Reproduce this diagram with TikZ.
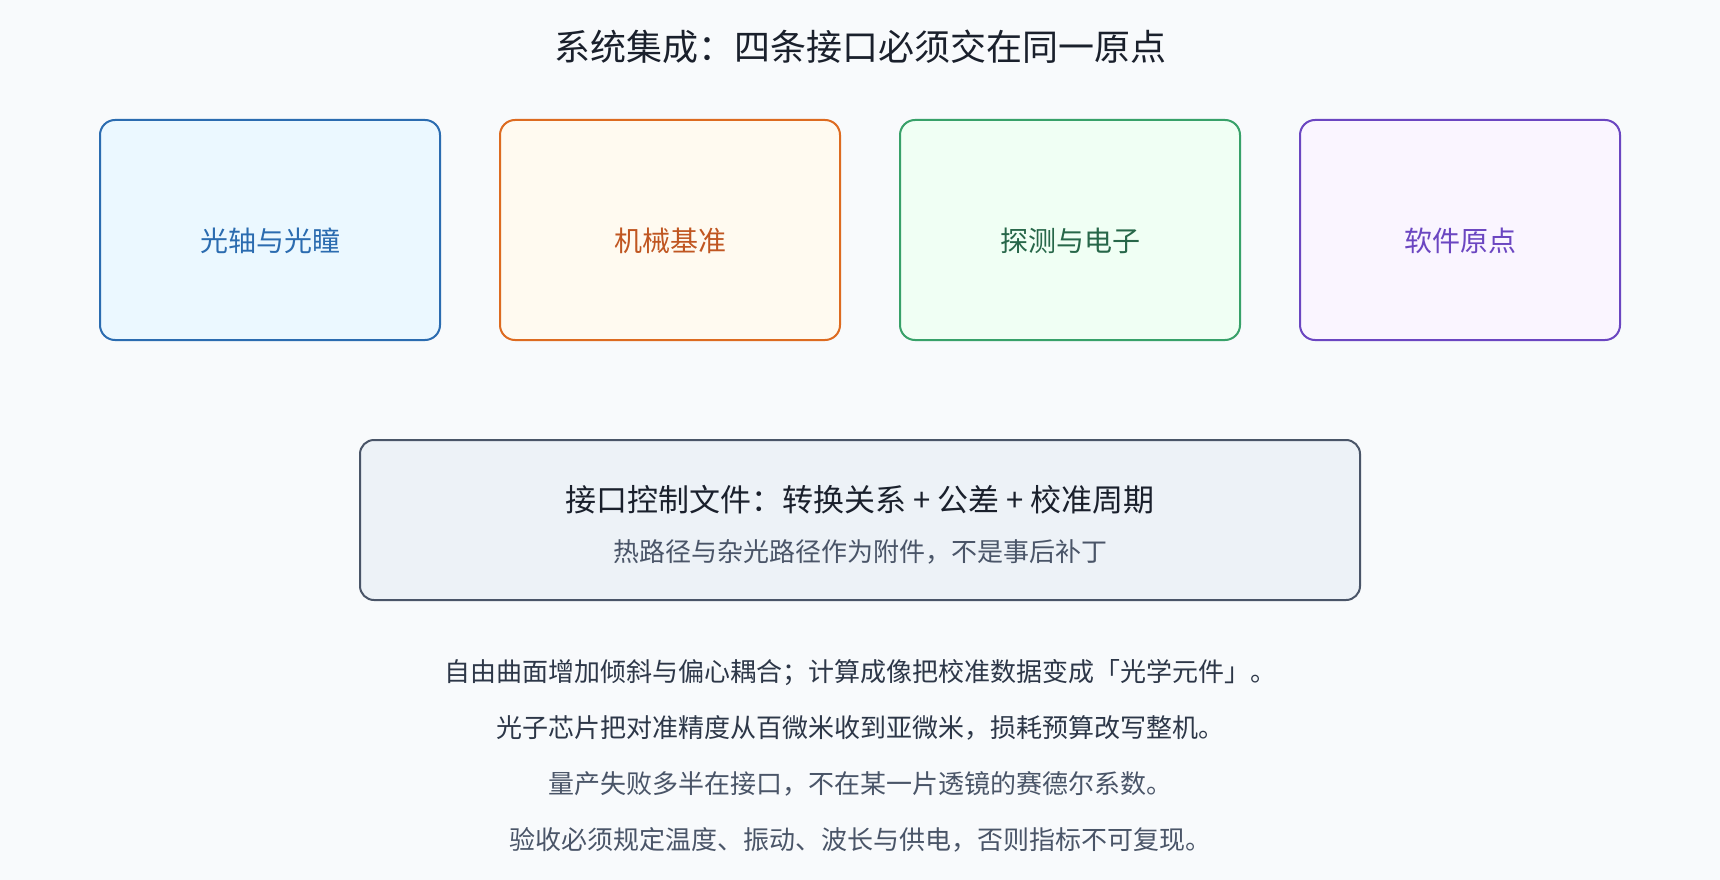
\documentclass[tikz,border=0pt]{standalone}
\usepackage{fontspec}
\setmainfont{Noto Sans CJK SC}
\definecolor{bgc}{HTML}{F8FAFC}
\definecolor{bluestroke}{HTML}{2B6CB0}
\definecolor{bluefill}{HTML}{EBF8FF}
\definecolor{orangestroke}{HTML}{DD6B20}
\definecolor{orangefill}{HTML}{FFFAF0}
\definecolor{orangetext}{HTML}{C05621}
\definecolor{greenstroke}{HTML}{38A169}
\definecolor{greenfill}{HTML}{F0FFF4}
\definecolor{greentext}{HTML}{276749}
\definecolor{purplestroke}{HTML}{6B46C1}
\definecolor{purplefill}{HTML}{FAF5FF}
\definecolor{slatestroke}{HTML}{4A5568}
\definecolor{slatefill}{HTML}{EDF2F7}
\definecolor{titletext}{HTML}{1A202C}
\definecolor{darktext}{HTML}{2D3748}
\definecolor{graytext}{HTML}{4A5568}
\tikzset{
  card/.style={rounded corners=15pt, line width=2pt},
  boxlabel/.style={anchor=base, inner sep=0pt, font=\fontsize{28}{34}\selectfont},
  noteline/.style={anchor=base, inner sep=0pt, font=\fontsize{26}{32}\selectfont},
}
\begin{document}
\begin{tikzpicture}[x=1pt,y=-1pt]
\fill[bgc] (0,0) rectangle (1720,880);
\useasboundingbox (0,0) rectangle (1720,880);

\node[anchor=base, inner sep=0pt, text=titletext, font=\fontsize{36}{42}\selectfont] (title) at (860,61) {系统集成：四条接口必须交在同一原点};

\draw[card, draw=bluestroke, fill=bluefill] (100,120) rectangle (440,340);
\node[boxlabel, text=bluestroke] (optics) at (270,251) {光轴与光瞳};

\draw[card, draw=orangestroke, fill=orangefill] (500,120) rectangle (840,340);
\node[boxlabel, text=orangetext] (mech) at (670,251) {机械基准};

\draw[card, draw=greenstroke, fill=greenfill] (900,120) rectangle (1240,340);
\node[boxlabel, text=greentext] (det) at (1070,251) {探测与电子};

\draw[card, draw=purplestroke, fill=purplefill] (1300,120) rectangle (1620,340);
\node[boxlabel, text=purplestroke] (soft) at (1460,251) {软件原点};

\draw[rounded corners=14pt, line width=2pt, draw=slatestroke, fill=slatefill] (360,440) rectangle (1360,600);
\node[anchor=base, inner sep=0pt, text=titletext, font=\fontsize{31}{37}\selectfont] (icd) at (860,511) {接口控制文件：转换关系 + 公差 + 校准周期};
\node[anchor=base, inner sep=0pt, text=graytext, font=\fontsize{26}{32}\selectfont] (icdsub) at (860,561) {热路径与杂光路径作为附件，不是事后补丁};

\node[noteline, text=darktext] (l1) at (860,681) {自由曲面增加倾斜与偏心耦合；计算成像把校准数据变成「光学元件」。};
\node[noteline, text=darktext] (l2) at (860,737) {光子芯片把对准精度从百微米收到亚微米，损耗预算改写整机。};
\node[noteline, text=graytext] (l3) at (860,793) {量产失败多半在接口，不在某一片透镜的赛德尔系数。};
\node[noteline, text=graytext] (l4) at (860,849) {验收必须规定温度、振动、波长与供电，否则指标不可复现。};
\end{tikzpicture}
\end{document}
